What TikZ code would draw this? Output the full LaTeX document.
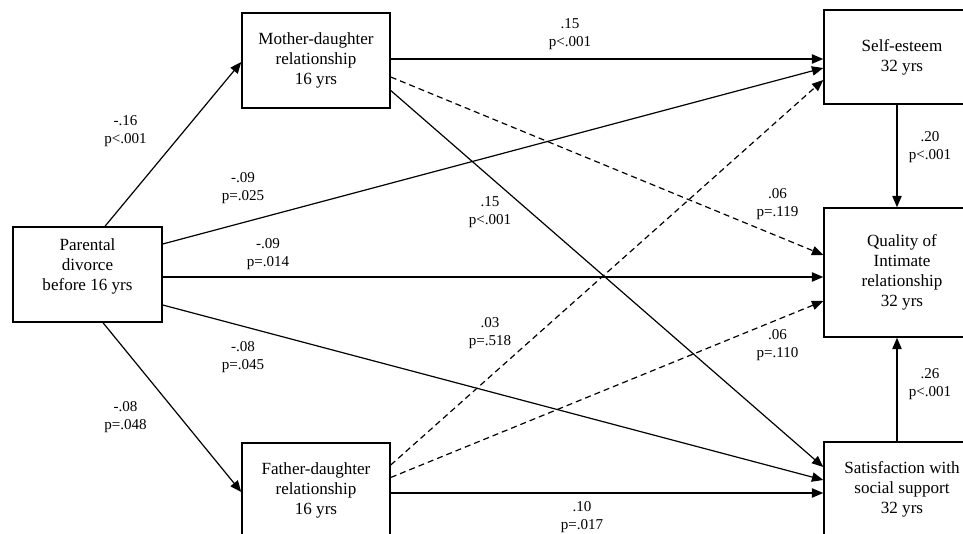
\documentclass[tikz,border=0pt]{standalone}
\usepackage{fontspec}
\setmainfont{Liberation Serif}
\usetikzlibrary{arrows.meta,calc}

\begin{document}
\begin{tikzpicture}
        [
            x=0.75pt, y=-0.75pt,
            BoxNode/.style=
            {rectangle, draw, line width=1.1pt, inner sep=0pt,
            align=center, font=\fontsize{12.8}{15}\selectfont,
            minimum width=111pt, minimum height=71.25pt},
            OutNode/.style=
            {BoxNode, minimum width=117pt},
            PathLabel/.style=
            {align=center, inner sep=0pt,
            font=\fontsize{11.3}{13.5}\selectfont},
            PathArrow/.style=
            {line width=0.9pt, -{Triangle[length=8.5pt, width=7pt]}},
            NsArrow/.style=
            {PathArrow, dash pattern=on 4.5pt off 3pt}
        ]
            \useasboundingbox (0,0) rectangle (963,534);
            \clip (0,0) rectangle (963,534);

            \node[BoxNode, minimum width=111.75pt] (par) at (87.5,274.5)
                {Parental\\divorce\\before 16 yrs\\\mbox{}};
            \node[BoxNode] (mom) at (316,60.5)
                {Mother-daughter\\relationship\\16 yrs};
            \node[BoxNode] (dad) at (316,490.5)
                {Father-daughter\\relationship\\16 yrs};
            \node[OutNode, minimum height=70.5pt] (self) at (902,57)
                {Self-esteem\\32 yrs};
            \node[OutNode, minimum height=96.75pt] (qual) at (902,272.5)
                {Quality of\\Intimate\\relationship\\32 yrs};
            \node[OutNode] (sat) at (902,489.5)
                {Satisfaction with\\social support\\32 yrs};

            % parental divorce
            \draw[PathArrow] ($(par.north)+(17.5,0)$) -- ($(mom.west)+(0,1.5)$);
            \draw[PathArrow] ($(par.east)+(0,-30.5)$) -- ($(self.west)+(0,11)$);
            \draw[PathArrow] ($(par.east)+(0,2.5)$) -- ($(qual.west)+(0,4.5)$);
            \draw[PathArrow] ($(par.east)+(0,30.5)$) -- ($(sat.west)+(0,-9.5)$);
            \draw[PathArrow] ($(par.south)+(15.5,0)$) -- ($(dad.west)+(0,1.5)$);

            % mother / father
            \draw[PathArrow] ($(mom.east)+(0,-1.5)$) -- ($(self.west)+(0,2)$);
            \draw[NsArrow] ($(mom.east)+(0,16.5)$) -- ($(qual.west)+(0,-17.5)$);
            \draw[PathArrow] ($(mom.east)+(0,30)$) -- ($(sat.west)+(0,-22.5)$);
            \draw[NsArrow] ($(dad.east)+(0,-25.5)$) -- ($(self.west)+(0,23)$);
            \draw[NsArrow] ($(dad.east)+(0,-13)$) -- ($(qual.west)+(0,28.5)$);
            \draw[PathArrow] ($(dad.east)+(0,2.5)$) -- ($(sat.west)+(0,3.5)$);

            % outcomes
            \draw[PathArrow] ($(self.south)+(-5,0)$) -- ($(qual.north)+(-5,0)$);
            \draw[PathArrow] ($(sat.north)+(-5,0)$) -- ($(qual.south)+(-5,0)$);

            \foreach \px/\py/\b/\p [count=\i] in
                {125.5/131/-.16/p<.001, 243/188.5/-.09/p=.025,
                 268/254/-.09/p=.014, 243/357/-.08/p=.045,
                 125.5/417/-.08/p=.048, 570/34/.15/p<.001,
                 490/212/.15/p<.001, 777.5/204.5/.06/p=.119,
                 930/147/.20/p<.001, 490/333.5/.03/p=.518,
                 777.5/345/.06/p=.110, 930/384.5/.26/p<.001,
                 582/517/.10/p=.017}
                \node[PathLabel] (lab\i) at (\px,\py) {\b\\\p};
    \end{tikzpicture}
\end{document}
